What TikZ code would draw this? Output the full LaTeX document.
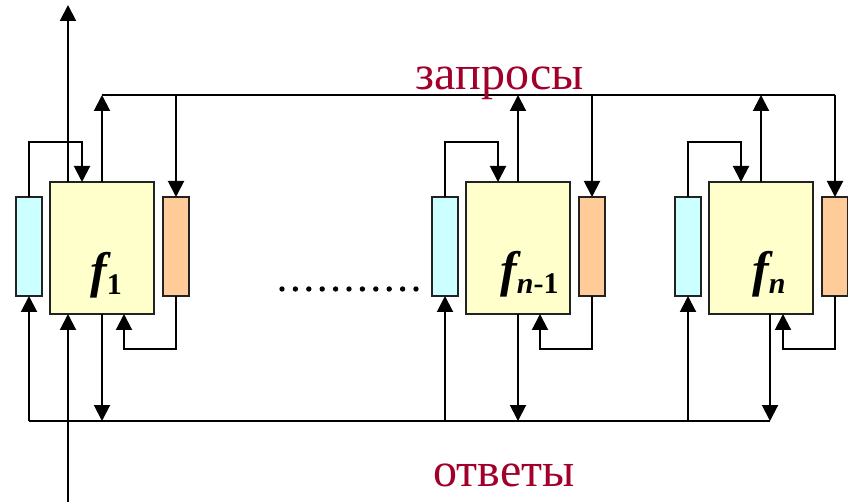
\documentclass[tikz,border=0pt]{standalone}
\usepackage{fontspec}
\setmainfont{Liberation Serif}
\usetikzlibrary{arrows.meta,calc}
\definecolor{yfill}{HTML}{FFFFCC}
\definecolor{cfill}{HTML}{CCFFFF}
\definecolor{ofill}{HTML}{FFCC99}
\definecolor{lblred}{HTML}{A0002A}
\definecolor{edge}{HTML}{222222}
\tikzset{
  boxbase/.style={draw=edge, line width=2pt, inner sep=0pt, outer sep=0pt, anchor=north west},
  ybx/.style={boxbase, fill=yfill, minimum width=104pt, minimum height=132pt},
  cbx/.style={boxbase, fill=cfill, minimum width=26pt, minimum height=99pt},
  obx/.style={boxbase, fill=ofill, minimum width=26pt, minimum height=99pt},
  conn/.style={line width=2pt, black},
  arr/.style={conn, -{Triangle[length=16pt,width=16pt]}},
  bigred/.style={text=lblred, inner sep=0pt, anchor=base, font=\fontsize{48}{48}\selectfont},
  flabel/.style={inner sep=0pt, anchor=base west, font=\fontsize{50}{50}\selectfont\bfseries\itshape},
}
\newcommand\fblock[3]{%
  \node[ybx] (y#1) at (#2,182) {};
  \node[cbx] (c#1) at (#2-34,197) {};
  \node[obx] (o#1) at (#2+113,197) {};
  \coordinate (u#1) at (#2+52,95);
  \coordinate (d#1) at (#2+126,95);
  \coordinate (k#1) at (#2+32,142);
  \coordinate (m#1) at (#2+74,349);
  \coordinate (b#1) at (#2+#3,421);
  \coordinate (a#1) at (#2-21,421);
  \draw[arr] (y#1.north -| u#1) -- (u#1);
  \draw[arr] (d#1) -- (d#1 |- o#1.north);
  \draw[arr] (c#1.north) |- (k#1) -- (k#1 |- y#1.north);
  \draw[arr] (o#1.south) |- (m#1) -- (m#1 |- y#1.south);
  \draw[arr] (y#1.south -| b#1) -- (b#1);
  \draw[arr] (a#1) -- (c#1.south);
}
\newcommand\fsub[1]{\raisebox{-7pt}{\fontsize{30}{30}\selectfont #1}}
\begin{document}
\begin{tikzpicture}[x=1pt,y=-1pt]
\useasboundingbox (0,0) rectangle (848,502);
\fblock{1}{50}{52}
\fblock{2}{466}{52}
\fblock{3}{709}{61}
% buses
\draw[conn] (u1) -- (d3);
\draw[conn] (a1) -- (b3);
% main in/out line
\coordinate (inB) at (68,502);
\coordinate (outT) at (68,5);
\draw[arr] (inB) -- (inB |- y1.south);
\draw[arr] (y1.north -| outT) -- (outT);
% dots
\foreach \i in {0,...,10} \fill (282+\i*13.4,289) circle (2.7pt);
% labels
\node[bigred] (zap) at (500,90) {запросы};
\node[bigred] (otv) at (504,486) {ответы};
\node[flabel] (f1) at (90,288) {f\fsub{\upshape 1}};
\node[flabel] (f2) at (500,287) {f\fsub{n\upshape -1}};
\node[flabel] (f3) at (752,287) {f\fsub{n}};
\end{tikzpicture}
\end{document}
